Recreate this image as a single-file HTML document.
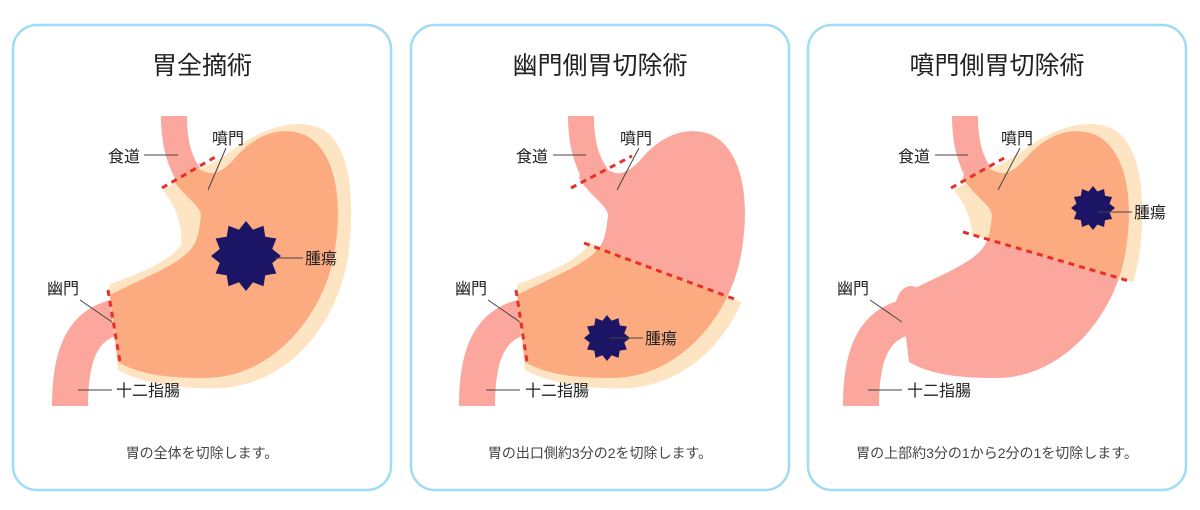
<!DOCTYPE html>
<html><head><meta charset="utf-8">
<style>
html,body{margin:0;padding:0;background:#fff;width:1200px;height:510px;overflow:hidden}
svg{display:block}
text{font-family:"Liberation Sans","Noto Sans CJK JP",sans-serif;fill:#222}
</style></head><body>
<svg width="1200" height="510" viewBox="0 0 1200 510" xmlns="http://www.w3.org/2000/svg">
<defs>
  <path id="eso" d="M161,116 L187,116 C187,150 195,168 218,186 L203,210 C176,190 161,160 161,116Z"/>
  <path id="duo" d="M122,316 C82,322 70,355 70,406" fill="none" stroke="#fca79d" stroke-width="36"/>
  <path id="beige" d="M163,190 C175,205 183,225 181,245 C170,262 135,275 108,285 L118,370 C145,385 190,390 225,388 C300,380 345,310 350,240 C355,180 345,140 320,128 C295,118 265,128 240,145 C225,155 212,165 200,168 Z"/>
  <path id="body" d="M172,178 C182,195 200,205 201,215 C199,235 197,245 185,255 C170,268 135,282 110,295 L118,362 C140,375 170,378 205,378 C270,378 320,320 333,260 C345,200 335,150 305,135 C280,125 255,135 235,158 C225,170 214,176 206,172 C195,168 182,162 178,152 Z"/>
  <polygon id="star" points="1,0 .75,.2 .866,.5 .55,.55 .5,.866 .2,.75 0,1 -.2,.75 -.5,.866 -.55,.55 -.866,.5 -.75,.2 -1,0 -.75,-.2 -.866,-.5 -.55,-.55 -.5,-.866 -.2,-.75 0,-1 .2,-.75 .5,-.866 .55,-.55 .866,-.5 .75,-.2" fill="#1c1464"/>
  <clipPath id="c1"><polygon points="150,193 230,147 230,100 400,100 400,450 123,450 108,290"/></clipPath>
  <clipPath id="c2"><polygon points="110,214 400,328 400,450 123,450 110,290"/></clipPath>
  <clipPath id="c3"><polygon points="150,226 150,193 230,147 230,100 400,100 400,299"/></clipPath>
</defs>

<rect x="13" y="25" width="378" height="465" rx="24" fill="none" stroke="#9fdcf6" stroke-width="2.5"/>
<rect x="411" y="25" width="378" height="465" rx="24" fill="none" stroke="#9fdcf6" stroke-width="2.5"/>
<rect x="808" y="25" width="378" height="465" rx="24" fill="none" stroke="#9fdcf6" stroke-width="2.5"/>

<text x="202" y="74" font-size="25" text-anchor="middle">胃全摘術</text>
<text x="600" y="74" font-size="25" text-anchor="middle">幽門側胃切除術</text>
<text x="997" y="74" font-size="25" text-anchor="middle">噴門側胃切除術</text>

<g font-size="14">
<text x="202" y="458" text-anchor="middle" style="fill:#444">胃の全体を切除します。</text>
<text x="600" y="458" text-anchor="middle" style="fill:#444">胃の出口側約3分の2を切除します。</text>
<text x="997" y="458" text-anchor="middle" style="fill:#444">胃の上部約3分の1から2分の1を切除します。</text>
</g>

<!-- Panel 1 -->
<g>
  <use href="#duo"/>
  <use href="#eso" fill="#fca79d"/>
  <g clip-path="url(#c1)"><use href="#beige" fill="#fde5c4"/><use href="#body" fill="#fcaa80"/></g>
  <line x1="162" y1="188" x2="217" y2="156" stroke="#e8302a" stroke-width="3" stroke-dasharray="6,5"/>
  <line x1="108" y1="290" x2="120" y2="362" stroke="#e8302a" stroke-width="3" stroke-dasharray="6,5"/>
  <use href="#star" transform="translate(246,256) scale(35)"/>
</g>
<!-- Panel 2 -->
<g transform="translate(407,0)">
  <use href="#duo"/>
  <use href="#eso" fill="#fca79d"/>
  <use href="#body" fill="#fca79d"/>
  <g clip-path="url(#c2)"><use href="#beige" fill="#fde5c4"/><use href="#body" fill="#fcaa80"/></g>
  <line x1="164" y1="188" x2="225" y2="156" stroke="#e8302a" stroke-width="3" stroke-dasharray="6,5"/>
  <line x1="177" y1="243" x2="330" y2="300" stroke="#e8302a" stroke-width="3" stroke-dasharray="6,5"/>
  <line x1="109" y1="290" x2="120" y2="362" stroke="#e8302a" stroke-width="3" stroke-dasharray="6,5"/>
  <use href="#star" transform="translate(200,338) scale(23)"/>
</g>
<!-- Panel 3 -->
<g transform="translate(791,0)">
  <use href="#duo"/>
  <use href="#eso" fill="#fca79d"/>
  <use href="#body" fill="#fca79d"/>
  <ellipse cx="120" cy="310" rx="16" ry="24" fill="#fca79d"/>
  <g clip-path="url(#c3)"><use href="#beige" fill="#fde5c4"/><use href="#body" fill="#fcaa80"/></g>
  <line x1="160" y1="188" x2="215" y2="157" stroke="#e8302a" stroke-width="3" stroke-dasharray="6,5"/>
  <line x1="172" y1="232" x2="338" y2="281" stroke="#e8302a" stroke-width="3" stroke-dasharray="6,5"/>
  <use href="#star" transform="translate(302,208) scale(22)"/>
</g>

<!-- labels -->
<g stroke="#444" stroke-width="1">
  <line x1="144" y1="155" x2="178" y2="155"/><line x1="226" y1="148" x2="208" y2="190"/>
  <line x1="275" y1="258" x2="303" y2="258"/><line x1="80" y1="300" x2="112" y2="322"/>
  <line x1="78" y1="390" x2="112" y2="390"/>
  <line x1="553" y1="155" x2="586" y2="155"/><line x1="639" y1="148" x2="617" y2="190"/>
  <line x1="610" y1="338" x2="643" y2="338"/><line x1="488" y1="300" x2="520" y2="322"/>
  <line x1="486" y1="390" x2="520" y2="390"/>
  <line x1="935" y1="155" x2="968" y2="155"/><line x1="1020" y1="148" x2="998" y2="190"/>
  <line x1="1098" y1="212" x2="1132" y2="212"/><line x1="870" y1="300" x2="902" y2="322"/>
  <line x1="868" y1="390" x2="902" y2="390"/>
</g>
<g font-size="16">
  <text x="108" y="162">食道</text><text x="212" y="144">噴門</text><text x="305" y="264">腫瘍</text>
  <text x="47" y="294">幽門</text><text x="116" y="396">十二指腸</text>
  <text x="516" y="162">食道</text><text x="620" y="144">噴門</text><text x="645" y="344">腫瘍</text>
  <text x="455" y="294">幽門</text><text x="525" y="396">十二指腸</text>
  <text x="898" y="162">食道</text><text x="1001" y="144">噴門</text><text x="1134" y="218">腫瘍</text>
  <text x="837" y="294">幽門</text><text x="907" y="396">十二指腸</text>
</g>
</svg>
</body></html>
